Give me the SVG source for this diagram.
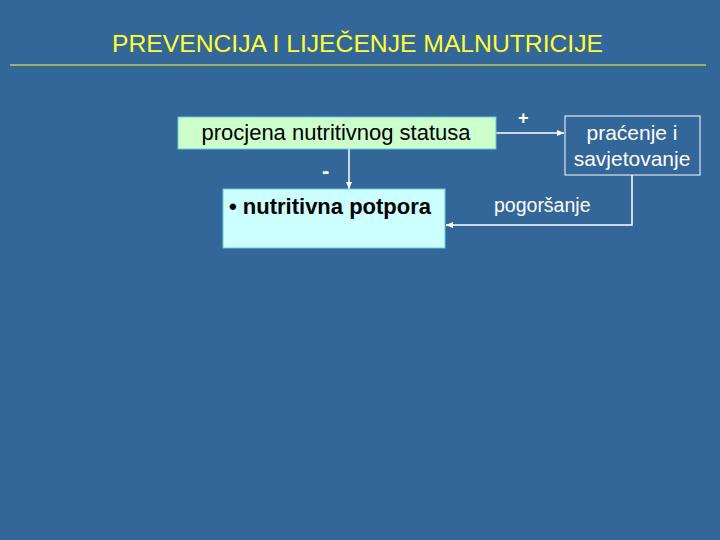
<svg xmlns="http://www.w3.org/2000/svg" width="720" height="540" viewBox="0 0 720 540">
<defs>
<style>
.t{font-family:"Liberation Sans",Arial,sans-serif}
.c{stroke:#ffffff;stroke-width:1.5;fill:none}
.w{fill:#ffffff}
</style>
<marker id="ah" markerWidth="8" markerHeight="8" refX="7" refY="4" orient="auto" markerUnits="userSpaceOnUse">
<path d="M0,1 L7,4 L0,7 Z" fill="#ffffff"/>
</marker>
</defs>
<rect width="720" height="540" fill="#336699"/>
<g id="title">
<text class="t" x="112" y="52" font-size="24.5" fill="#ffff33" textLength="491" lengthAdjust="spacingAndGlyphs">PREVENCIJA I LIJEČENJE MALNUTRICIJE</text>
<line x1="10" y1="65" x2="706" y2="65" stroke="#ffff33" stroke-width="1"/>
</g>
<g id="connectors">
<line class="c" x1="349" y1="149" x2="349" y2="189" marker-end="url(#ah)"/>
<line class="c" x1="496" y1="133" x2="564" y2="133" marker-end="url(#ah)"/>
<polyline class="c" points="632,175 632,225 446,225" marker-end="url(#ah)"/>
<text class="t w" x="322" y="178" font-size="22" font-weight="bold">-</text>
<text class="t w" x="518" y="124" font-size="18" font-weight="bold">+</text>
<text class="t w" x="494" y="212" font-size="19.5">pogoršanje</text>
</g>
<g id="procjena">
<rect x="178" y="117" width="318" height="32" fill="#ccffcc" stroke="#66cccc" stroke-width="1"/>
<text class="t" x="336" y="140" font-size="22" text-anchor="middle" fill="#000">procjena nutritivnog statusa</text>
</g>
<g id="potpora">
<rect x="223" y="189" width="222" height="59" fill="#ccffff" stroke="#66cccc" stroke-width="1"/>
<text class="t" x="229" y="214" font-size="22" font-weight="bold" fill="#000">• nutritivna potpora</text>
</g>
<g id="pracenje">
<rect x="565" y="116" width="135" height="59" fill="none" stroke="#ffffff" stroke-width="1"/>
<text class="t w" x="632" y="140" font-size="21" text-anchor="middle">praćenje i</text>
<text class="t w" x="632" y="166" font-size="21" text-anchor="middle">savjetovanje</text>
</g>
</svg>
